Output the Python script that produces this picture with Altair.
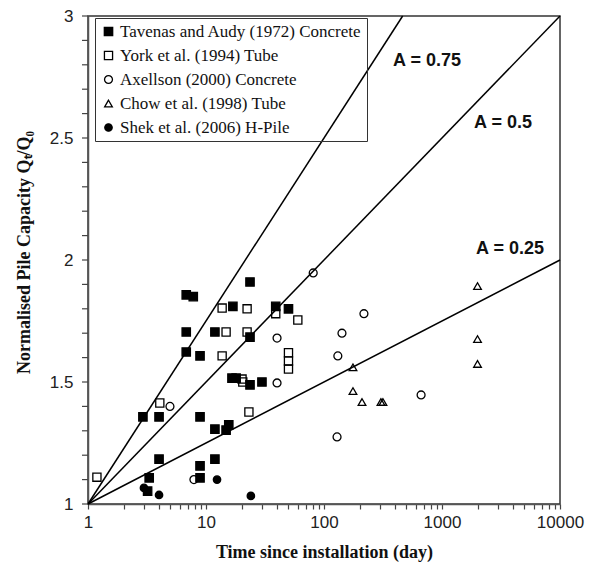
import altair as alt
import pandas as pd

# ---- data ----
series = [
    "Tavenas and Audy (1972) Concrete",
    "York et al. (1994) Tube",
    "Axellson (2000) Concrete",
    "Chow et al. (1998) Tube",
    "Shek et al. (2006) H-Pile",
]
shapes = ["square", "square", "circle", "triangle-up", "circle"]
fills = ["black", "transparent", "transparent", "transparent", "black"]
strokes = ["black", "black", "black", "black", "black"]
sizes = [70, 55, 60, 32, 85]

tav_x = [2.92, 4.0, 8.9, 6.8, 7.8, 23.6, 16.9, 39, 50, 6.8, 11.9, 23.6, 6.8, 8.9,
         16.6, 18, 23.6, 29.8, 11.9, 14.8, 15.6, 4.0, 8.9, 11.9, 3.3, 8.9, 3.2]
tav_y = [1.357, 1.357, 1.357, 1.857, 1.85, 1.91, 1.81, 1.81, 1.80, 1.705, 1.705, 1.684, 1.623, 1.607,
         1.516, 1.516, 1.488, 1.50, 1.307, 1.303, 1.324, 1.184, 1.156, 1.184, 1.107, 1.107, 1.053]

york_x = [1.19, 4.06, 13.7, 22.3, 14.8, 22.3, 13.7, 39, 60, 50, 50, 50, 20.2, 20.5, 23.1]
york_y = [1.11, 1.414, 1.803, 1.80, 1.705, 1.705, 1.607, 1.78, 1.754, 1.62, 1.586, 1.553, 1.512, 1.50, 1.377]

axel_x = [4.95, 7.9, 81, 40, 40, 142, 218, 131, 665, 129]
axel_y = [1.40, 1.10, 1.947, 1.68, 1.496, 1.70, 1.78, 1.607, 1.447, 1.275]

chow_x = [176, 176, 210, 304, 316, 2000, 2000, 2000]
chow_y = [1.56, 1.463, 1.418, 1.418, 1.418, 1.893, 1.676, 1.574]

shek_x = [2.98, 4.0, 12.4, 24]
shek_y = [1.066, 1.037, 1.10, 1.033]

# model lines Q_T/Q_0 = 1 + A log10(t): end points
line_A = ["0.25", "0.5", "0.75"]
line_x0 = [1, 1, 1]
line_y0 = [1, 1, 1]
line_x1 = [10000, 10000, 464]
line_y1 = [2, 3, 3]

label_text = ["A = 0.75", "A = 0.5", "A = 0.25"]
label_x = [746, 3290, 3770]
label_y = [2.816, 2.561, 2.045]

x_major = [1, 10, 100, 1000, 10000]
x_ticks = [m * 10 ** d for d in range(4) for m in range(1, 10)] + [10000]
y_ticks = [round(1 + 0.1 * i, 1) for i in range(21)]

# ---- tables ----
rows = []
for name, xs, ys in zip(series, [tav_x, york_x, axel_x, chow_x, shek_x],
                        [tav_y, york_y, axel_y, chow_y, shek_y]):
    for xv, yv in zip(xs, ys):
        rows.append({"series": name, "t": xv, "q": yv})
pts = pd.DataFrame(rows)

lrows = []
for a, x0, y0, x1, y1 in zip(line_A, line_x0, line_y0, line_x1, line_y1):
    lrows.append({"A": a, "t": x0, "q": y0})
    lrows.append({"A": a, "t": x1, "q": y1})
lines = pd.DataFrame(lrows)

labels = pd.DataFrame({"text": label_text, "t": label_x, "q": label_y})
yt = pd.DataFrame({"q": y_ticks})

# ---- encodings ----
x_enc = alt.X(
    "t:Q",
    scale=alt.Scale(type="log", domain=[1, 10000], nice=False),
    axis=alt.Axis(
        values=x_ticks,
        format="d",
        labelExpr="indexof(" + str(x_major) + ", datum.value) >= 0 ? datum.label : ''",
        labelFlush=False,
        labelOverlap=False,
        ticks=True,
        tickSize=5,
        tickColor="#444",
        tickWidth=1.2,
        title="Time since installation (day)",
        titleX=236,
        titleY=53,
        titleBaseline="alphabetic",
        labelPadding=5,
    ),
)
y_enc = alt.Y(
    "q:Q",
    scale=alt.Scale(domain=[1, 3], nice=False, zero=False),
    axis=alt.Axis(
        values=y_ticks,
        format="~g",
        labelExpr="(round(datum.value * 10) % 5 == 0) ? datum.label : ''",
        labelOverlap=False,
        labelFlush=False,
        ticks=False,
        title="Normalised Pile Capacity Q\u209C/Q\u2080",
        titleX=-59,
        titleY=236,
        titleAngle=-90,
        titleBaseline="alphabetic",
        labelPadding=15,
    ),
)

leg = alt.Legend(
    orient="none",
    legendX=7,
    legendY=2,
    title=None,
    strokeColor="#333",
    padding=5,
    labelFont="Liberation Serif",
    labelFontSize=17,
    labelColor="#111",
    labelLimit=400,
    rowPadding=6,
    symbolStrokeWidth=1.3,
    labelOffset=3,
)

ytick_layer = alt.Chart(yt).mark_rule(color="#444", strokeWidth=1.2, clip=False).encode(
    y=y_enc, x=alt.value(-6), x2=alt.value(0)
)

line_layer = alt.Chart(lines).mark_line(color="black", strokeWidth=1.5).encode(
    x=x_enc, y=y_enc, detail="A:N"
)

point_layer = alt.Chart(pts).mark_point(filled=True, strokeWidth=1.3, opacity=1).encode(
    x=x_enc,
    y=y_enc,
    shape=alt.Shape("series:N", scale=alt.Scale(domain=series, range=shapes), legend=leg),
    fill=alt.Fill("series:N", scale=alt.Scale(domain=series, range=fills), legend=leg),
    stroke=alt.Stroke("series:N", scale=alt.Scale(domain=series, range=strokes), legend=leg),
    size=alt.Size("series:N", scale=alt.Scale(domain=series, range=sizes), legend=leg),
)

text_layer = alt.Chart(labels).mark_text(
    font="Liberation Sans", fontWeight="bold", fontSize=18, color="#111"
).encode(x=x_enc, y=y_enc, text="text:N")

chart = (
    alt.layer(line_layer, ytick_layer, point_layer, text_layer)
    .properties(
        width=472,
        height=488,
        autosize=alt.AutoSizeParams(type="none"),
        padding={"left": 88, "top": 16, "right": 30, "bottom": 66},
    )
    .configure_view(stroke="#333", strokeWidth=1.5)
    .configure_axis(
        grid=False,
        domainColor="#555",
        domainWidth=1.5,
        labelFont="Liberation Sans",
        labelFontSize=17,
        labelColor="#222",
        titleFont="Liberation Serif",
        titleFontWeight="bold",
        titleFontSize=18,
        titleColor="#111",
    )
)

chart.save("out.html", embed_options={"renderer": "svg", "actions": False})
